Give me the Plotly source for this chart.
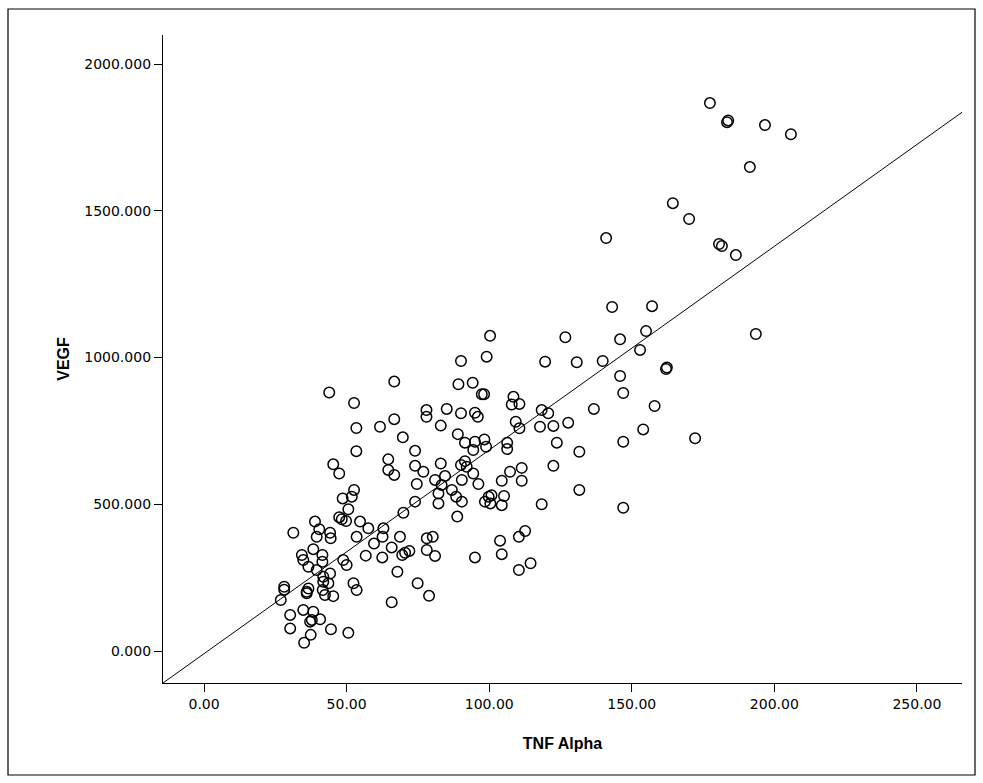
import plotly.graph_objects as go

# TNF Alpha (x) and VEGF (y) values
tnf_alpha = [
    177.4, 183.4, 183.8, 196.7, 205.8, 191.4, 164.4, 170.1, 141.0, 180.6, 181.6, 186.5, 143.1, 157.1, 193.5,
    126.7, 145.9, 155.0, 152.9, 119.6, 130.7, 139.8, 162.0, 162.3, 145.9, 147.0, 136.7, 158.0, 118.4, 120.7,
    117.8, 122.5, 127.7, 154.0, 172.2, 123.7, 131.6, 147.0, 122.5, 131.6, 147.0, 118.4,
    100.3, 99.1, 90.1, 66.7, 89.2, 94.2, 97.4, 98.2, 52.6, 108.5, 107.9, 110.6, 78.0, 78.0, 85.1, 90.1, 95.0,
    96.0, 53.4, 61.7, 66.7, 83.0, 69.7, 74.0, 89.0, 91.5, 95.0, 98.3, 98.9, 94.4, 109.3, 110.6, 106.3, 106.3,
    53.4, 64.6, 64.6, 66.7, 74.0, 76.9, 83.0, 90.1, 91.5, 92.1, 94.4, 107.3, 111.4,
    74.6, 81.0, 83.3, 84.5, 82.2, 82.2, 86.9, 88.4, 90.4, 90.4, 96.2, 88.8, 99.8, 100.4, 98.5, 100.8, 104.4,
    111.4, 105.2, 104.4, 103.8, 104.4, 110.4, 112.6, 110.4, 114.5, 95.0, 74.0, 69.9, 57.6, 62.9, 62.6, 59.6,
    68.7, 65.8, 56.7, 62.5, 69.5, 72.0, 70.5, 78.1, 80.2, 78.1, 81.0, 67.8, 74.9, 78.9, 65.8,
    28.1, 28.1, 26.9, 30.2, 30.2, 34.8, 38.3, 37.8, 40.7, 37.2, 37.4, 35.1, 44.5, 50.6, 36.0, 36.6, 36.0,
    41.6, 42.4, 45.3, 43.6, 41.8, 44.2, 41.8, 34.3, 34.8, 36.6, 38.3, 41.5, 41.5, 39.5, 48.8, 50.0, 52.4, 53.5,
    43.9, 45.3, 47.4, 52.6, 51.8, 48.6, 50.6, 47.4, 48.3, 49.8, 38.9, 40.4, 39.5, 44.2, 44.4, 31.3, 53.5, 54.7,
]
vegf = [
    1867, 1802, 1808, 1792, 1761, 1649, 1526, 1472, 1407, 1387, 1380, 1349, 1172, 1175, 1080,
    1069, 1062, 1090, 1026, 986, 984, 988, 961, 966, 937, 879, 825, 835, 821, 810,
    764, 767, 778, 755, 725, 710, 679, 713, 631, 549, 488, 500,
    1074, 1003, 988, 918, 909, 914, 875, 875, 845, 866, 840, 842, 821, 798, 825, 810, 812,
    798, 760, 764, 790, 768, 728, 682, 739, 710, 713, 721, 696, 685, 781, 759, 710, 688,
    681, 653, 617, 600, 631, 611, 639, 634, 647, 628, 605, 611, 624,
    569, 583, 566, 596, 537, 503, 549, 526, 583, 509, 569, 458, 526, 503, 509, 531, 580,
    580, 528, 497, 376, 330, 389, 409, 276, 299, 319, 509, 471, 418, 418, 389, 366,
    389, 353, 325, 319, 327, 341, 335, 384, 389, 344, 324, 270, 231, 188, 166,
    219, 209, 174, 123, 77, 140, 134, 106, 108, 100, 55, 28, 74, 62, 202, 213, 197,
    208, 191, 187, 231, 236, 264, 253, 327, 310, 287, 347, 327, 304, 276, 310, 293, 231, 208,
    881, 636, 605, 549, 526, 520, 483, 456, 449, 443, 441, 415, 389, 403, 384, 403, 389, 441,
]

# Linear fit line
fit_intercept = -9.0
fit_slope = 6.94

x_range = [-14.4, 265.8]
y_range = [-109, 2099]
x_ticks = [0, 50, 100, 150, 200, 250]
y_ticks = [0, 500, 1000, 1500, 2000]

fig = go.Figure()
fig.add_trace(go.Scatter(
    x=tnf_alpha, y=vegf, mode="markers",
    marker=dict(symbol="circle-open", size=10.5, color="black", line=dict(width=1.5, color="black")),
    showlegend=False, hoverinfo="x+y",
))
fig.add_trace(go.Scatter(
    x=x_range, y=[fit_intercept + fit_slope * v for v in x_range], mode="lines",
    line=dict(color="black", width=1), showlegend=False, hoverinfo="skip",
))

L, R, T, B = 163, 21, 35, 100
W, H = 983, 783
pw, ph = W - L - R, H - T - B

def px(xp):
    return (xp - L) / pw

def py(yp):
    return (H - B - yp) / ph

fig.add_shape(type="rect", xref="paper", yref="paper",
              x0=px(8), x1=px(975), y0=py(775), y1=py(9),
              line=dict(color="black", width=1.2), fillcolor="rgba(0,0,0,0)")

tick_font = dict(family="DejaVu Sans", size=14, color="black")
title_font = dict(family="Liberation Sans", size=16, color="black", weight="bold")

fig.update_xaxes(
    range=x_range, tickvals=x_ticks, tickformat=".2f", ticks="outside", ticklen=8, tickwidth=1.3,
    tickcolor="black", showline=True, linecolor="black", linewidth=1.3, showgrid=False, zeroline=False,
    tickfont=tick_font, title=dict(text="TNF Alpha", font=title_font, standoff=26),
)
fig.update_yaxes(
    range=y_range, tickvals=y_ticks, tickformat=".3f", ticks="outside", ticklen=8, tickwidth=1.3,
    tickcolor="black", showline=True, linecolor="black", linewidth=1.3, showgrid=False, zeroline=False,
    tickfont=tick_font, title=dict(text="VEGF", font=title_font, standoff=10),
)
fig.update_layout(
    width=W, height=H, margin=dict(l=L, r=R, t=T, b=B, autoexpand=False),
    paper_bgcolor="white", plot_bgcolor="white",
)
fig.write_html("out.html")
